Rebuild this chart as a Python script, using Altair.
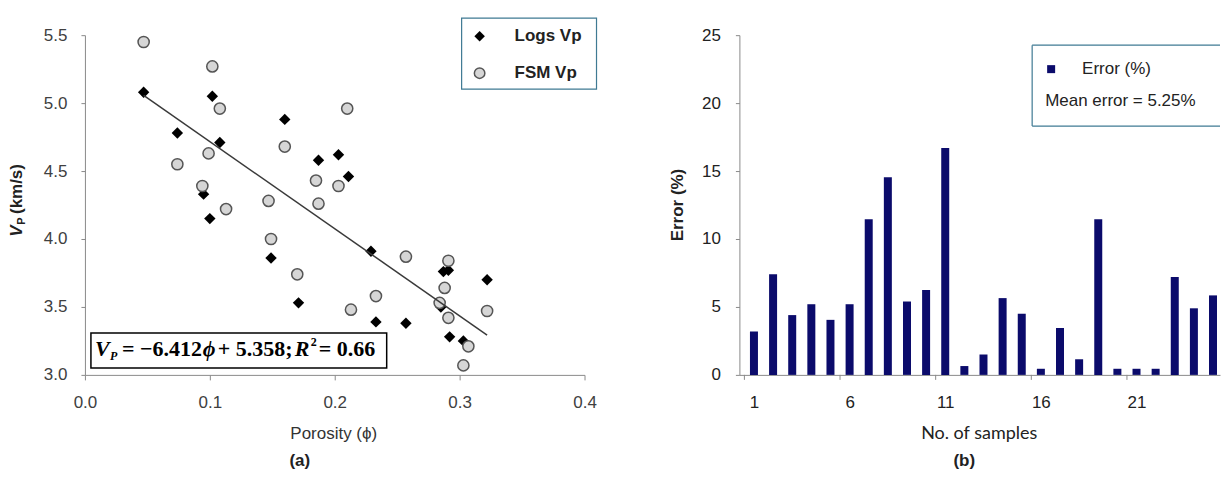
import altair as alt
import pandas as pd

# ---------------- data ----------------
# panel (a): porosity vs P-wave velocity
phi_logs = [0.047, 0.102, 0.074, 0.108, 0.160, 0.095, 0.100, 0.187, 0.203, 0.211,
            0.149, 0.171, 0.229, 0.287, 0.291, 0.322, 0.285, 0.233, 0.257, 0.292, 0.303]
vp_logs = [5.08, 5.05, 4.78, 4.71, 4.88, 4.33, 4.15, 4.58, 4.62, 4.46,
           3.86, 3.53, 3.91, 3.76, 3.77, 3.70, 3.50, 3.39, 3.38, 3.28, 3.25]
phi_fsm = [0.047, 0.102, 0.108, 0.074, 0.099, 0.094, 0.113, 0.147, 0.160, 0.185,
           0.187, 0.149, 0.210, 0.203, 0.170, 0.257, 0.291, 0.288, 0.233, 0.213,
           0.284, 0.322, 0.291, 0.307, 0.303]
vp_fsm = [5.45, 5.27, 4.96, 4.55, 4.63, 4.39, 4.22, 4.28, 4.68, 4.43,
          4.26, 4.00, 4.96, 4.39, 3.74, 3.87, 3.84, 3.64, 3.58, 3.48,
          3.53, 3.47, 3.42, 3.21, 3.07]
porosity_ticks = [0.0, 0.1, 0.2, 0.3, 0.4]
vp_ticks = [3.0, 3.5, 4.0, 4.5, 5.0, 5.5]
SLOPE, INTERCEPT = -6.412, 5.358

# panel (b): error per sample
samples = list(range(1, 26))
errors = [3.2, 7.4, 4.4, 5.2, 4.05, 5.2, 11.45, 14.55, 5.4, 6.25,
          16.7, 0.65, 1.5, 5.65, 4.5, 0.45, 3.45, 1.15, 11.45, 0.45,
          0.45, 0.45, 7.2, 4.9, 5.85]
sample_labels = [1, 6, 11, 16, 21]
sample_tick_marks = [0.5, 5.5, 10.5, 15.5, 20.5]
error_ticks = [0, 5, 10, 15, 20, 25]

# ---------------- style ----------------
W1, W2, H = 500, 481, 340
SANS = "Liberation Sans"
SERIF = "Liberation Serif"
AX = "#8a8a8a"
NAVY = "#0b0b6b"
one = pd.DataFrame({"k": [0]})


def txt(s, x, y, size=17, weight="normal", style="normal", font=SANS,
        align="left", baseline="middle", angle=0, color="#222222"):
    return alt.Chart(one).mark_text(
        text=s, fontSize=size, fontWeight=weight, fontStyle=style, font=font,
        align=align, baseline=baseline, angle=angle, color=color
    ).encode(x=alt.value(x), y=alt.value(y))


def rect(x1, x2, y1, y2, stroke=None, sw=1.2):
    kw = dict(fill="white")
    if stroke:
        kw.update(stroke=stroke, strokeWidth=sw)
    return alt.Chart(one).mark_rect(**kw).encode(
        x=alt.value(x1), x2=alt.value(x2), y=alt.value(y1), y2=alt.value(y2))


def rule(x1, x2, y1, y2, color, sw=1.2):
    return alt.Chart(one).mark_rule(color=color, strokeWidth=sw).encode(
        x=alt.value(x1), x2=alt.value(x2), y=alt.value(y1), y2=alt.value(y2))


# ---------------- panel (a) ----------------
logs_df = pd.DataFrame({"phi": phi_logs, "vp": vp_logs})
fsm_df = pd.DataFrame({"phi": phi_fsm, "vp": vp_fsm})
lo, hi = min(phi_logs), max(phi_logs)
fit_df = pd.DataFrame({"phi": [lo, hi],
                       "vp": [INTERCEPT + SLOPE * lo, INTERCEPT + SLOPE * hi]})

xa = alt.Axis(values=porosity_ticks, format=".1f", grid=False, title=None,
              tickSize=5, labelPadding=15, labelFlush=False, domainColor=AX,
              tickColor=AX, labelFont=SANS, labelFontSize=17, labelColor="#404040")
ya = alt.Axis(values=vp_ticks, format=".1f", grid=False, title=None,
              tickSize=4, labelPadding=14, domainColor=AX, tickColor=AX,
              labelFont=SANS, labelFontSize=17, labelColor="#404040")
X = alt.X("phi:Q", scale=alt.Scale(domain=[0, 0.4], nice=False, zero=False), axis=xa)
Y = alt.Y("vp:Q", scale=alt.Scale(domain=[3.0, 5.5], nice=False, zero=False), axis=ya)

diamonds = alt.Chart(logs_df).mark_point(
    shape="diamond", filled=True, size=130, color="black", opacity=1).encode(x=X, y=Y)
circles = alt.Chart(fsm_df).mark_point(
    shape="circle", filled=True, size=125, fill="#d6d6d6", stroke="#555555",
    strokeWidth=1.5, opacity=1).encode(x=X, y=Y)
fit = alt.Chart(fit_df).mark_line(color="#3a3a3a", strokeWidth=1.5).encode(x=X, y=Y)

LEG = "#3f7a93"
legend_a = [
    rect(377, 512, -17, 54, stroke=LEG),
    alt.Chart(one).mark_point(shape="diamond", filled=True, size=110, color="black",
                              opacity=1).encode(x=alt.value(395), y=alt.value(1)),
    alt.Chart(one).mark_point(shape="circle", filled=True, size=110, fill="#d6d6d6",
                              stroke="#555555", strokeWidth=1.5, opacity=1
                              ).encode(x=alt.value(395), y=alt.value(38)),
    txt("Logs Vp", 430, 1, weight="bold"),
    txt("FSM Vp", 430, 38, weight="bold"),
]

EQ_Y = 321
eq_kw = dict(size=22, weight="bold", font=SERIF, baseline="alphabetic", color="black")
equation = [
    rect(6, 302, 298, 333, stroke="black", sw=1.5),
    txt("V", 10, EQ_Y, style="italic", **eq_kw),
    txt("P", 25, EQ_Y + 4, size=12, weight="bold", style="italic", font=SERIF,
        baseline="alphabetic", color="black"),
    txt("= \u22126.412", 37, EQ_Y, **eq_kw),
    txt("\u03d5", 118, EQ_Y, style="italic", **eq_kw),
    txt("+ 5.358;", 133, EQ_Y, **eq_kw),
    txt("R", 210, EQ_Y, style="italic", **eq_kw),
    txt("2", 226, EQ_Y - 10, size=12, weight="bold", font=SERIF,
        baseline="alphabetic", color="black"),
    txt("= 0.66", 234, EQ_Y, **eq_kw),
]

TITLE_Y = 399
TAG_Y = 426
titles_a = [
    txt("(km/s)", -68, 154, weight="bold", align="center", angle=270),
    txt("V", -68, 196, weight="bold", style="italic", align="center", angle=270),
    txt("P", -63, 186, size=11, weight="bold", align="center", angle=270),
    txt("Porosity (\u03d5)", 249, TITLE_Y, align="center", color="#333333"),
    txt("(a)", 215, TAG_Y, weight="bold", align="center"),
]

left = alt.layer(diamonds, circles, fit, *legend_a, *equation, *titles_a).properties(
    width=W1, height=H)

# ---------------- panel (b) ----------------
bar_df = pd.DataFrame({"sample": samples, "error": errors})
tick_df = pd.DataFrame({"sample": sample_tick_marks})
STEP = 19.55

xb = alt.Axis(values=sample_labels, format="d", grid=False, title=None, ticks=False,
              tickSize=0, labelPadding=20, labelFlush=False, domainColor=AX,
              labelFont=SANS, labelFontSize=17, labelColor="#222222")
yb = alt.Axis(values=error_ticks, format="d", grid=False, title=None, tickSize=4,
              labelPadding=15, domainColor=AX, tickColor=AX, labelFont=SANS,
              labelFontSize=17, labelColor="#222222")
XB = alt.X("sample:Q", scale=alt.Scale(domain=[0.5, 0.5 + W2 / STEP], nice=False, zero=False),
           axis=xb)
YB = alt.Y("error:Q", scale=alt.Scale(domain=[0, 25], nice=False, zero=True), axis=yb)

bars = alt.Chart(bar_df).mark_bar(size=8, color=NAVY, clip=True).encode(x=XB, y=YB)
tick_rules = alt.Chart(tick_df).mark_rule(color=AX, strokeWidth=1).encode(
    x=XB, y=alt.value(H), y2=alt.value(H + 5))

legend_b = [
    rect(293, W2, 10, 91),
    rule(293, W2, 10, 10, LEG),
    rule(293, W2, 91, 91, LEG),
    rule(293, 293, 10, 91, LEG),
    alt.Chart(one).mark_point(shape="square", filled=True, size=64, color=NAVY,
                              opacity=1).encode(x=alt.value(312), y=alt.value(34)),
    txt("Error (%)", 343, 34),
    txt("Mean error = 5.25%", 306, 66),
]

titles_b = [
    txt("Error (%)", -61, 170, weight="bold", align="center", angle=270),
    txt("No. of samples", 240, TITLE_Y, size=18, font="Lato", align="center"),
    txt("(b)", 225, TAG_Y, weight="bold", align="center"),
]

right = alt.layer(bars, tick_rules, *legend_b, *titles_b).properties(width=W2, height=H)

chart = alt.hconcat(left, right, spacing=155, bounds="flush").properties(
    padding={"left": 0, "top": 9, "right": 0, "bottom": 0}
).configure_view(stroke=None)

chart.save("out.html", embed_options={"renderer": "svg", "actions": False})
